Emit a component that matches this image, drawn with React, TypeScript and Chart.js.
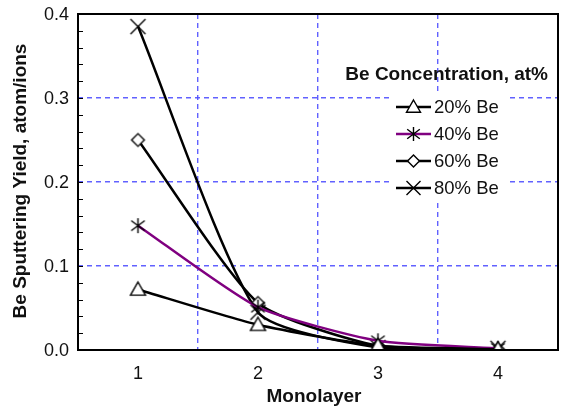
import { useEffect, useRef } from 'react';
import { Chart, registerables } from 'chart.js';

Chart.register(...registerables);

// ---- data ----
const monolayers = [1, 2, 3, 4];
const be20 = [0.072, 0.030, 0.005, 0.001];
const be40 = [0.148, 0.051, 0.011, 0.002];
const be60 = [0.250, 0.056, 0.005, 0.001];
const be80 = [0.385, 0.045, 0.003, 0.002];
const seriesLabels = ['20% Be', '40% Be', '60% Be', '80% Be'];
const xTickValues = [0.5, 1, 1.5, 2, 2.5, 3, 3.5, 4, 4.5];
const xTickLabels = ['1', '2', '3', '4'];
const yTickValues = [0, 0.1, 0.2, 0.3, 0.4];
const yTickLabels = ['0.0', '0.1', '0.2', '0.3', '0.4'];
const xTitle = 'Monolayer';
const yTitle = 'Be Sputtering Yield, atom/ions';
const legendTitle = 'Be Concentration, at%';

const FONT = "'Liberation Sans', Arial, sans-serif";
const GRID_BLUE = 'rgba(80, 80, 255, 0.9)';
const PURPLE = '#800080';
const AREA = { left: 78, right: 558, top: 14, bottom: 350 };

type Kind = 'triangle' | 'asterisk' | 'diamond' | 'x';

function drawMarker(ctx: CanvasRenderingContext2D, kind: Kind, x: number, y: number, r: number) {
  ctx.save();
  ctx.strokeStyle = '#000';
  ctx.fillStyle = '#fff';
  ctx.lineWidth = 1.4;
  ctx.beginPath();
  if (kind === 'triangle') {
    ctx.moveTo(x, y - r);
    ctx.lineTo(x + r, y + r * 0.75);
    ctx.lineTo(x - r, y + r * 0.75);
    ctx.closePath();
    ctx.fill();
    ctx.stroke();
  } else if (kind === 'diamond') {
    const d = r * 0.85;
    ctx.moveTo(x, y - d);
    ctx.lineTo(x + d, y);
    ctx.lineTo(x, y + d);
    ctx.lineTo(x - d, y);
    ctx.closePath();
    ctx.fill();
    ctx.stroke();
  } else if (kind === 'x') {
    ctx.moveTo(x - r, y - r);
    ctx.lineTo(x + r, y + r);
    ctx.moveTo(x + r, y - r);
    ctx.lineTo(x - r, y + r);
    ctx.stroke();
  } else {
    const a = r * 0.9;
    ctx.moveTo(x, y - r);
    ctx.lineTo(x, y + r);
    ctx.moveTo(x - a, y - a * 0.75);
    ctx.lineTo(x + a, y + a * 0.75);
    ctx.moveTo(x + a, y - a * 0.75);
    ctx.lineTo(x - a, y + a * 0.75);
    ctx.stroke();
  }
  ctx.restore();
}

function makeMarker(kind: Kind, r: number) {
  const c = document.createElement('canvas');
  const s = Math.ceil(2 * r + 4);
  c.width = s;
  c.height = s;
  const ctx = c.getContext('2d')!;
  drawMarker(ctx, kind, s / 2, s / 2, r);
  return c;
}

const kinds: Kind[] = ['triangle', 'asterisk', 'diamond', 'x'];
const colors = ['#000', PURPLE, '#000', '#000'];
const seriesValues = [be20, be40, be60, be80];

const isNear = (v: number, list: number[]) => list.some((t) => Math.abs(v - t) < 1e-6);

const areaPlugin = {
  id: 'fixArea',
  afterLayout(chart: any) {
    const ca = chart.chartArea;
    ca.left = AREA.left;
    ca.right = AREA.right;
    ca.top = AREA.top;
    ca.bottom = AREA.bottom;
    ca.width = AREA.right - AREA.left;
    ca.height = AREA.bottom - AREA.top;
    const x = chart.scales.x;
    x.left = AREA.left;
    x.right = AREA.right;
    x.width = AREA.right - AREA.left;
    x.top = AREA.bottom;
    x.bottom = AREA.bottom + 60;
    x.configure();
    const y = chart.scales.y;
    y.top = AREA.top;
    y.bottom = AREA.bottom;
    y.height = AREA.bottom - AREA.top;
    y.left = 0;
    y.right = AREA.left;
    y.configure();
  },
};

const decorPlugin = {
  id: 'decor',
  afterDraw(chart: any) {
    const { ctx, chartArea } = chart;
    const { left, right, top, bottom } = chartArea;
    const xScale = chart.scales.x;
    const yScale = chart.scales.y;

    // minor ticks on y axis (inside)
    ctx.save();
    ctx.strokeStyle = '#000';
    ctx.lineWidth = 1;
    for (let i = 1; i < 20; i++) {
      const v = i * 0.02;
      const py = Math.round(yScale.getPixelForValue(v)) + 0.5;
      ctx.beginPath();
      ctx.moveTo(left, py);
      ctx.lineTo(left + 5, py);
      ctx.stroke();
    }
    ctx.restore();

    // frame
    ctx.save();
    ctx.strokeStyle = '#000';
    ctx.lineWidth = 2;
    ctx.strokeRect(left, top, right - left, bottom - top);
    ctx.restore();

    // tick labels
    ctx.save();
    ctx.fillStyle = '#111';
    ctx.font = `18px ${FONT}`;
    ctx.textBaseline = 'middle';
    ctx.textAlign = 'right';
    yTickValues.forEach((v, i) => {
      ctx.fillText(yTickLabels[i], left - 9, yScale.getPixelForValue(v) + 1);
    });
    ctx.textAlign = 'center';
    monolayers.forEach((m, i) => {
      ctx.fillText(xTickLabels[i], xScale.getPixelForValue(m), bottom + 24);
    });
    ctx.restore();

    // axis titles
    ctx.save();
    ctx.fillStyle = '#111';
    ctx.font = `bold 19px ${FONT}`;
    ctx.textAlign = 'center';
    ctx.textBaseline = 'middle';
    ctx.fillText(xTitle, (left + right) / 2 - 4, 397);
    ctx.translate(21, 181);
    ctx.rotate(-Math.PI / 2);
    ctx.fillText(yTitle, 0, 0);
    ctx.restore();

    // legend
    ctx.save();
    ctx.fillStyle = '#fff';
    ctx.fillRect(393, 92, 115, 108);
    ctx.fillStyle = '#111';
    ctx.font = `bold 19px ${FONT}`;
    ctx.textAlign = 'right';
    ctx.textBaseline = 'middle';
    ctx.fillText(legendTitle, 548, 75);
    ctx.font = `18.5px ${FONT}`;
    ctx.textAlign = 'left';
    const rowY = [107, 134, 161, 188];
    seriesLabels.forEach((lab, i) => {
      const y = rowY[i];
      ctx.strokeStyle = colors[i];
      ctx.lineWidth = 2.5;
      ctx.beginPath();
      ctx.moveTo(396, y);
      ctx.lineTo(431, y);
      ctx.stroke();
      drawMarker(ctx, kinds[i], 413.5, y, 7);
      ctx.fillStyle = '#111';
      ctx.fillText(lab, 434, y + 1);
    });
    ctx.restore();
  },
};

export default function App() {
  const ref = useRef<HTMLCanvasElement | null>(null);

  useEffect(() => {
    document.body.style.margin = '0';
    const canvas = ref.current;
    if (!canvas) return;

    const datasets = seriesValues.map((vals, i) => ({
      label: seriesLabels[i],
      data: monolayers.map((m, j) => ({ x: m, y: vals[j] })),
      borderColor: colors[i],
      backgroundColor: colors[i],
      borderWidth: 2.5,
      tension: 0.2,
      pointStyle: makeMarker(kinds[i], 7.5) as any,
      pointRadius: 7,
      pointHoverRadius: 7,
      fill: false,
    }));

    const chart = new Chart(canvas, {
      type: 'line',
      data: { datasets },
      plugins: [areaPlugin, decorPlugin],
      options: {
        responsive: false,
        animation: false,
        events: [],
        layout: { padding: { top: 14, right: 4, left: 0, bottom: 0 } },
        plugins: {
          legend: { display: false },
          tooltip: { enabled: false },
          title: { display: false },
        },
        scales: {
          x: {
            type: 'linear',
            min: 0.5,
            max: 4.5,
            afterBuildTicks: (s: any) => {
              s.ticks = xTickValues.map((v) => ({ value: v }));
            },
            afterFit: (s: any) => {
              s.height = 60;
            },
            ticks: { display: false },
            grid: {
              drawTicks: false,
              lineWidth: 1.4,
              color: (c: any) => (c.tick && isNear(c.tick.value, [1.5, 2.5, 3.5]) ? GRID_BLUE : 'rgba(0,0,0,0)'),
            },
            border: { display: false, dash: [5, 4] },
          },
          y: {
            type: 'linear',
            min: 0,
            max: 0.4,
            afterBuildTicks: (s: any) => {
              s.ticks = yTickValues.map((v) => ({ value: v }));
            },
            afterFit: (s: any) => {
              s.width = 78;
            },
            ticks: { display: false },
            grid: {
              drawTicks: false,
              lineWidth: 1.4,
              color: (c: any) => (c.tick && isNear(c.tick.value, [0.1, 0.2, 0.3]) ? GRID_BLUE : 'rgba(0,0,0,0)'),
            },
            border: { display: false, dash: [5, 4] },
          },
        },
      },
    });

    return () => chart.destroy();
  }, []);

  return (
    <div style={{ width: 562, height: 410, position: 'relative' }}>
      <canvas ref={ref} width={562} height={410} style={{ display: 'block' }} />
    </div>
  );
}
